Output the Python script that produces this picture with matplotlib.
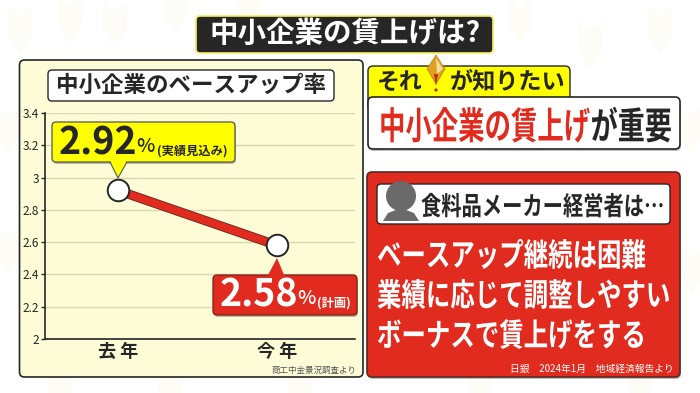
import matplotlib
matplotlib.use('Agg')
import matplotlib.pyplot as plt
import matplotlib.patheffects as pe
from matplotlib.patches import FancyBboxPatch, Polygon, Circle
from matplotlib.transforms import Affine2D

plt.rcParams['font.family'] = ['Noto Sans CJK JP', 'DejaVu Sans']

# data
categories = ['去 年', '今 年']
values = [2.92, 2.58]
yticks = [2, 2.2, 2.4, 2.6, 2.8, 3, 3.2, 3.4]
yticklabels = ['2', '2.2', '2.4', '2.6', '2.8', '3', '3.2', '3.4']

DARK = '#262626'
RED = '#e02b1e'
YEL = '#ffff00'
W, H = 700, 393

fig = plt.figure(figsize=(7, 3.93), dpi=100)


class Tall(pe.AbstractPathEffect):
    # the captions are condensed, so stretch the glyphs up from the baseline
    def __init__(self, k):
        super().__init__()
        self.k = k

    def draw_path(self, renderer, gc, tpath, affine, rgbFace=None):
        renderer.draw_path(gc, tpath, Affine2D().scale(1, self.k) + affine, rgbFace)


def pixel_axes(z):
    a = fig.add_axes([0, 0, 1, 1], zorder=z)
    a.set_xlim(0, W)
    a.set_ylim(H, 0)
    a.axis('off')
    a.patch.set_alpha(0)
    return a


def box(a, x0, y0, x1, y1, fc, ec=DARK, lw=1.2, r=4, shadow=True, z=2):
    if shadow:
        a.add_patch(FancyBboxPatch((x0 + 1, y0 + 2), x1 - x0, y1 - y0,
                                   boxstyle=f'round,pad=0,rounding_size={r}',
                                   fc='#00000040', ec='none', zorder=z - 0.1))
    a.add_patch(FancyBboxPatch((x0, y0), x1 - x0, y1 - y0,
                               boxstyle=f'round,pad=0,rounding_size={r}',
                               fc=fc, ec=ec, lw=lw, zorder=z))


bg = pixel_axes(0)
fg = pixel_axes(2)

# faint background chevrons
for cx, cy in [(20, 30), (70, 20), (115, 25), (175, 10), (250, 5), (520, 20), (590, 45), (660, 30),
               (8, 130), (8, 250), (690, 130), (692, 270), (60, 388), (170, 385), (300, 388),
               (480, 388), (640, 385)]:
    bg.add_patch(Polygon([(cx - 12, cy - 24), (cx, cy - 14), (cx + 12, cy - 24), (cx + 12, cy + 6),
                          (cx, cy + 24), (cx - 12, cy + 6)], fc='#fefcf6', ec='none'))

# left panel
box(bg, 19.5, 60, 363, 377, '#fdfcd6', lw=1.2, r=5, shadow=False)

# title
box(fg, 196, 16, 493, 53, DARK, ec='#f4ee5a', lw=1.2, r=4, shadow=False)
fg.text(345, 34, '中小企業の賃上げは?', color='white', fontsize=20.5, fontweight='bold',
        ha='center', va='center', zorder=3)

# chart
ax = fig.add_axes([45 / W, 1 - 339 / H, 310 / W, 226 / H], zorder=1)
ax.patch.set_alpha(0)
xpos = range(len(categories))
ax.plot(xpos, values, color=RED, lw=5.5, solid_capstyle='butt', zorder=3,
        path_effects=[pe.Stroke(linewidth=6.8, foreground='#6b2a20'), pe.Normal()])
ax.plot(xpos, values, ls='none', marker='o', ms=15.5, mfc='white', mec=DARK, mew=1.4,
        zorder=4, clip_on=False)
ax.set_xlim(-73 / 159, 237 / 159)
ax.set_ylim(2, 3.4)
ax.set_yticks(yticks)
ax.set_yticklabels(yticklabels, fontsize=8.5, color=DARK)
ax.set_xticks(list(xpos))
ax.set_xticklabels(categories, fontsize=13, fontweight='bold', color=DARK)
ax.tick_params(axis='y', length=3, width=1, color=DARK, pad=1.5)
ax.tick_params(axis='x', length=0, pad=2)
ax.grid(axis='y', color='#d9d8b4', lw=1)
ax.set_axisbelow(True)
for s in ['top', 'right']:
    ax.spines[s].set_visible(False)
for s in ['left', 'bottom']:
    ax.spines[s].set_color(DARK)
    ax.spines[s].set_linewidth(1.2)

# panel heading
box(fg, 48, 70, 334, 101, 'white', lw=1, r=4, shadow=False)
fg.text(191, 85, '中小企業のベースアップ率', color=DARK, fontsize=16.2, fontweight='bold',
        ha='center', va='center', zorder=3)

# yellow callout
fg.add_patch(Polygon([(109, 160), (128, 160), (118, 178)], fc='#f0ee10', ec='#555', lw=0.8, zorder=2))
box(fg, 52, 122, 235, 162, YEL, ec='#555', lw=0.9, r=4)
fg.add_patch(Polygon([(110, 160), (127, 160), (118, 176)], fc=YEL, ec='none', zorder=3))
fg.text(59, 143, '2.92', color=DARK, fontsize=27, fontweight='bold', ha='left', va='center', zorder=4)
fg.text(136, 147, '%', color=DARK, fontsize=14, fontweight='medium', ha='left', va='center', zorder=4)
fg.text(157, 151, '(実績見込み)', color=DARK, fontsize=8.8, fontweight='bold', ha='left', va='center', zorder=4)

# red callout
box(fg, 213, 275, 357, 315, RED, ec='#7a2018', lw=0.9, r=4)
fg.add_patch(Polygon([(267, 277), (285, 277), (277, 258)], fc=RED, ec='none', zorder=3))
fg.text(220, 295, '2.58', color='white', fontsize=27, fontweight='bold', ha='left', va='center', zorder=4)
fg.text(297, 299, '%', color='white', fontsize=14, fontweight='medium', ha='left', va='center', zorder=4)
fg.text(317, 303, '(計画)', color='white', fontsize=8.8, fontweight='bold', ha='left', va='center', zorder=4)

fg.text(356, 370, '商工中金景況調査より', color='#555555', fontsize=6.1, ha='right', va='center', zorder=3)

# right top
box(fg, 368, 66, 570, 110, YEL, lw=1, r=5, shadow=False, z=2)
box(fg, 368, 97, 680, 149, 'white', lw=1.2, r=5, z=3)
fg.text(377, 82, 'それ', color=DARK, fontsize=16.5, fontweight='bold', ha='left', va='center', zorder=4)
fg.text(450, 82, 'が知りたい', color=DARK, fontsize=16.7, fontweight='bold', ha='left', va='center', zorder=4)
fg.add_patch(Polygon([(436, 55), (445, 69), (436, 84), (427, 69)], fc='#e0a020', ec='#b8860b',
                     lw=0.5, zorder=5))
fg.add_patch(Polygon([(436, 58), (443, 69), (437, 74)], fc='#f3dca0', ec='none', zorder=6))
fg.add_patch(Polygon([(434, 74), (438, 74), (436, 86)], fc='#c8281a', ec='none', zorder=6))
fg.add_patch(Circle((436, 90), 1.6, fc='#c8281a', ec='none', zorder=6))
fg.text(379, 139, '中小企業の賃上げ', color=RED, fontsize=19, fontweight='bold', ha='left', va='baseline',
        zorder=4, path_effects=[Tall(1.42)])
fg.text(672, 139, 'が重要', color=DARK, fontsize=19.5, fontweight='bold', ha='right', va='baseline',
        zorder=4, path_effects=[Tall(1.38)])

# right bottom
box(fg, 367, 172, 680, 377, RED, ec='#5a2a22', lw=1.2, r=5)
box(fg, 377, 184, 670, 224, 'white', lw=1, r=4, shadow=False, z=3)
fg.add_patch(Circle((401, 196), 15, fc='#6a6a6a', ec='none', zorder=4))
fg.add_patch(Polygon([(383, 221), (388, 213), (401, 208), (414, 213), (419, 221)], fc='#6a6a6a', ec='none', zorder=4))
fg.text(421, 215, '食料品メーカー経営者は…', color=DARK, fontsize=14.6, fontweight='bold', ha='left', va='baseline',
        zorder=5, path_effects=[Tall(1.28)])
for txt, y in zip(['ベースアップ継続は困難', '業績に応じて調整しやすい', 'ボーナスで賃上げをする'], [266, 306, 346]):
    fg.text(377, y, txt, color='white', fontsize=17.6, fontweight='bold', ha='left', va='baseline',
            zorder=4, path_effects=[Tall(1.3)])
fg.text(674, 369, '日銀　2024年1月　地域経済報告より', color='white', fontsize=7, ha='right', va='center', zorder=4)

fig.savefig('out.png', dpi=100)
